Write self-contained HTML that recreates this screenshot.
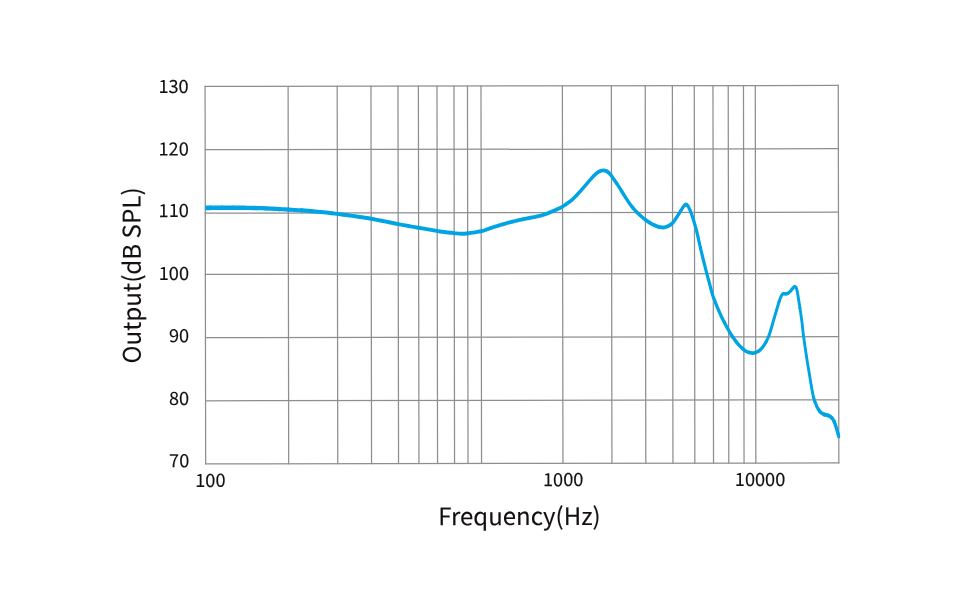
<!DOCTYPE html>
<html lang="en"><head><meta charset="utf-8"><title>Frequency Response</title>
<style>
html,body{margin:0;padding:0;background:#fff;}
body{width:976px;height:613px;overflow:hidden;position:relative;}
svg{position:absolute;left:0;top:0;display:block;}
text{font-family:"Noto Sans CJK SC","Liberation Sans",sans-serif;fill:#141010;stroke:#141010;stroke-width:0.12px;}
.tick{font-size:18.2px;}
.axis{font-size:24px;}
</style></head><body>
<svg width="976" height="613" viewBox="0 0 976 613">
<rect width="976" height="613" fill="#fff"/>
<g transform="rotate(-0.088 522 275)">
<g stroke="#8c8e90" stroke-width="1.25" stroke-linecap="round" fill="none"><line x1="205.37" y1="85.93" x2="205.37" y2="463.40"/><line x1="288.40" y1="85.93" x2="288.40" y2="463.40"/><line x1="337.47" y1="85.93" x2="337.47" y2="463.40"/><line x1="371.27" y1="85.93" x2="371.27" y2="463.40"/><line x1="398.27" y1="85.93" x2="398.27" y2="463.40"/><line x1="418.67" y1="85.93" x2="418.67" y2="463.40"/><line x1="437.27" y1="85.93" x2="437.27" y2="463.40"/><line x1="454.27" y1="85.93" x2="454.27" y2="463.40"/><line x1="467.75" y1="85.93" x2="467.75" y2="463.40"/><line x1="481.27" y1="85.93" x2="481.27" y2="463.40"/><line x1="562.67" y1="85.93" x2="562.67" y2="463.40"/><line x1="611.65" y1="85.93" x2="611.65" y2="463.40"/><line x1="645.52" y1="85.93" x2="645.52" y2="463.40"/><line x1="672.67" y1="85.93" x2="672.67" y2="463.40"/><line x1="694.57" y1="85.93" x2="694.57" y2="463.40"/><line x1="713.25" y1="85.93" x2="713.25" y2="463.40"/><line x1="728.50" y1="85.93" x2="728.50" y2="463.40"/><line x1="743.77" y1="85.93" x2="743.77" y2="463.40"/><line x1="755.57" y1="85.93" x2="755.57" y2="463.40"/><line x1="838.56" y1="85.93" x2="838.56" y2="463.40"/><line x1="205.37" y1="85.93" x2="838.56" y2="85.93"/><line x1="205.37" y1="149.23" x2="838.56" y2="149.23"/><line x1="205.37" y1="212.65" x2="838.56" y2="212.65"/><line x1="205.37" y1="273.93" x2="838.56" y2="273.93"/><line x1="205.37" y1="337.18" x2="838.56" y2="337.18"/><line x1="205.37" y1="400.28" x2="838.56" y2="400.28"/><line x1="205.37" y1="463.40" x2="838.56" y2="463.40"/></g>
<clipPath id="plotclip"><rect x="205.35" y="80" width="640" height="390"/></clipPath>
<g clip-path="url(#plotclip)"><g transform="scale(0.82 1)" fill="none" stroke="#00a4e3" stroke-linejoin="round" stroke-linecap="round"><path stroke-width="4.55" d="M250.37 207.41C251.77 207.41 254.02 207.40 256.74 207.39"/><path stroke-width="4.50" d="M256.74 207.39C258.10 207.38 259.58 207.38 261.13 207.37C262.68 207.36 264.30 207.36 265.95 207.35C267.60 207.34 269.27 207.34 270.93 207.33"/><path stroke-width="4.45" d="M270.93 207.33C272.58 207.32 274.22 207.32 275.79 207.32C277.35 207.31 278.86 207.31 280.24 207.31C281.63 207.30 282.91 207.30 284.03 207.31"/><path stroke-width="4.40" d="M284.03 207.31C286.26 207.31 288.22 207.31 289.99 207.32C291.76 207.33 293.36 207.34 294.88 207.35C296.41 207.37 297.86 207.38 299.35 207.41"/><path stroke-width="4.35" d="M299.35 207.41C300.84 207.43 302.36 207.45 304.03 207.48C305.69 207.51 307.28 207.54 308.84 207.57C310.41 207.60 311.95 207.64 313.53 207.68"/><path stroke-width="4.30" d="M313.53 207.68C315.12 207.72 316.74 207.76 318.47 207.82C320.20 207.87 322.03 207.93 324.03 208.01"/><path stroke-width="4.25" d="M324.03 208.01C326.02 208.08 328.14 208.16 330.35 208.25C332.57 208.34 334.87 208.44 337.24 208.54C338.42 208.59 339.62 208.65 340.83 208.70"/><path stroke-width="4.20" d="M340.83 208.70C342.04 208.76 343.26 208.81 344.49 208.87C345.72 208.93 346.96 208.99 348.21 209.05C349.45 209.11 350.70 209.18 351.95 209.24"/><path stroke-width="4.15" d="M351.95 209.24C353.20 209.31 354.48 209.37 355.79 209.44C357.10 209.50 358.43 209.57 359.78 209.64C361.13 209.71 362.50 209.78 363.87 209.86C365.25 209.93 366.63 210.00 368.01 210.08"/><path stroke-width="4.10" d="M368.01 210.08C369.39 210.16 370.77 210.23 372.14 210.31C373.52 210.39 374.88 210.48 376.22 210.56C377.57 210.64 378.90 210.73 380.20 210.81"/><path stroke-width="4.05" d="M380.20 210.81C381.50 210.90 382.78 210.99 384.02 211.08C385.26 211.17 386.48 211.27 387.68 211.36C388.88 211.46 390.06 211.55 391.23 211.65"/><path stroke-width="4.00" d="M391.23 211.65C393.56 211.85 395.83 212.06 398.08 212.27C400.33 212.48 402.56 212.70 404.79 212.92"/><path stroke-width="3.95" d="M404.79 212.92C407.03 213.15 409.28 213.38 411.58 213.62C412.73 213.73 413.91 213.86 415.12 213.99C416.33 214.12 417.56 214.25 418.80 214.39C420.03 214.53 421.28 214.67 422.53 214.81C423.77 214.95 425.01 215.09 426.23 215.23C427.45 215.38 428.66 215.52 429.83 215.65C431.00 215.79 432.14 215.92 433.23 216.05C435.42 216.31 437.42 216.55 439.13 216.75C442.56 217.16 444.00 217.29 445.56 217.47C446.34 217.56 447.14 217.66 448.24 217.81C449.34 217.96 450.73 218.17 452.67 218.47C453.64 218.62 454.73 218.79 455.92 218.98C457.11 219.17 458.40 219.39 459.75 219.61C461.11 219.83 462.53 220.07 464.00 220.32C465.46 220.56 466.97 220.81 468.49 221.07C470.01 221.32 471.55 221.58 473.07 221.84C474.60 222.09 476.11 222.35 477.58 222.59C479.05 222.83 480.48 223.07 481.84 223.29C483.21 223.51 484.50 223.72 485.71 223.91"/><path stroke-width="3.90" d="M485.71 223.91C488.11 224.29 490.32 224.63 492.41 224.94C494.51 225.26 496.49 225.55 498.44 225.83C500.38 226.11 502.30 226.38 504.25 226.66C506.21 226.95 508.21 227.23 510.33 227.54C512.46 227.85 514.71 228.18 517.01 228.53C518.16 228.70 519.32 228.87 520.48 229.04C521.65 229.21 522.81 229.39 523.96 229.55C526.27 229.89 528.54 230.22 530.69 230.52C532.83 230.82 534.85 231.10 536.67 231.32C538.48 231.55 540.15 231.75 541.71 231.92C543.27 232.08 544.73 232.23 546.11 232.36C547.49 232.49 548.80 232.60 550.08 232.70C551.36 232.81 552.61 232.90 553.86 233.00C556.36 233.19 558.18 233.42 560.07 233.56C561.96 233.71 563.91 233.77 566.66 233.61C568.04 233.53 569.68 233.39 571.45 233.21C573.21 233.03 575.10 232.81 576.98 232.57C578.85 232.34 580.71 232.08 582.41 231.84C584.11 231.59 585.66 231.35 586.91 231.14C589.41 230.72 590.82 230.34 592.12 229.93C593.42 229.52 594.61 229.09 596.67 228.55C597.70 228.28 598.85 227.98 600.06 227.66C601.26 227.34 602.54 227.00 603.85 226.66C605.15 226.32 606.49 225.97 607.80 225.63C609.12 225.30 610.43 224.97 611.68 224.67C612.93 224.37 614.18 224.07 615.43 223.77C616.68 223.48 617.93 223.19 619.18 222.90C620.43 222.62 621.68 222.34 622.93 222.07C624.18 221.80 625.44 221.54 626.69 221.29C627.94 221.03 629.19 220.79 630.44 220.56C631.69 220.33 632.94 220.10 634.19 219.88C635.44 219.67 636.69 219.45 637.94 219.24C639.19 219.03 640.44 218.82 641.69 218.61C642.94 218.40 644.24 218.19 645.55 217.99C646.86 217.80 648.18 217.60 649.48 217.41C650.77 217.22 652.05 217.02 653.26 216.83C654.48 216.63 655.63 216.43 656.70 216.23C658.82 215.81 660.64 215.40 662.32 214.98C664.01 214.55 665.57 214.11 667.19 213.64C668.80 213.17 670.27 212.67 671.71 212.16C673.15 211.64 674.57 211.11 676.10 210.55C677.62 209.99 679.07 209.54 680.59 209.01C682.11 208.47 683.69 207.85 685.49 206.96C686.39 206.52 687.40 205.99 688.45 205.42C689.50 204.85 690.60 204.23 691.69 203.60C692.78 202.97 693.86 202.32 694.88 201.69C695.90 201.06 696.86 200.44 697.70 199.88C699.38 198.75 700.70 197.71 701.93 196.66C703.17 195.61 704.31 194.55 705.64 193.39C706.97 192.22 708.30 190.97 709.64 189.70C710.97 188.44 712.31 187.15 713.64 185.90C714.98 184.65 716.38 183.30 717.75 182.01C719.11 180.71 720.45 179.46 721.64 178.41C722.84 177.35 724.00 176.35 725.07 175.47C726.15 174.58 727.14 173.81 728.00 173.21C729.72 172.02 730.64 171.67 731.96 171.22C733.28 170.77 734.60 170.52 735.93 170.52C737.26 170.53 738.63 170.68 739.95 171.23C741.27 171.78 742.53 172.63 743.85 173.83C745.17 175.04 746.26 176.57 747.86 178.44C748.67 179.37 749.57 180.40 750.52 181.51C751.47 182.62 752.47 183.80 753.46 185.05C754.46 186.29 755.49 187.65 756.55 189.06C757.61 190.47 758.69 191.93 759.79 193.35C760.88 194.78 762.01 196.31 763.16 197.82C764.30 199.32 765.45 200.81 766.60 202.16C767.75 203.52 768.90 204.82 770.05 206.06C771.21 207.29 772.37 208.47 773.54 209.57C774.70 210.67 775.89 211.68 777.07 212.64C778.25 213.59 779.43 214.50 780.60 215.38C781.77 216.27 782.92 217.11 784.08 217.92C785.23 218.72 786.38 219.48 787.54 220.19C788.70 220.90 789.86 221.56 791.01 222.18C792.17 222.80 793.33 223.37 794.49 223.90C795.64 224.43 796.86 224.92 798.05 225.37C799.24 225.81 800.40 226.20 801.43 226.51C803.50 227.13 805.41 227.43 806.92 227.61C808.42 227.80 809.17 227.80 810.46 227.62C811.74 227.44 812.98 227.24 814.60 226.52C816.23 225.81 818.63 224.58 820.22 223.33C821.81 222.08 822.81 220.62 824.13 219.04C825.45 217.45 826.82 215.57 828.16 213.84C829.51 212.11 831.14 209.98 832.20 208.65C833.26 207.31 833.80 206.50 834.52 205.85C835.24 205.20 835.80 204.72 836.53 204.75C837.27 204.79 838.05 205.08 838.91 206.05C839.77 207.03 840.85 208.97 841.71 210.61C842.57 212.24 843.29 213.95 844.07 215.86C844.86 217.77 845.64 219.90 846.44 222.06C846.84 223.15 847.27 224.29 847.68 225.45C848.10 226.60 848.50 227.76 848.87 228.87C849.59 231.08 849.84 231.89 850.81 235.37C851.05 236.24 851.33 237.29 851.64 238.45C851.95 239.61 852.28 240.87 852.62 242.17C852.97 243.46 853.32 244.79 853.67 246.09C854.02 247.38 854.36 248.63 854.68 249.77C855.33 252.06 855.97 254.25 856.62 256.40C857.27 258.54 857.91 260.65 858.56 262.78C859.21 264.91 859.88 267.11 860.54 269.25C861.21 271.39 861.85 273.45 862.44 275.28C863.03 277.12 863.52 278.61 864.01 280.09C864.51 281.56 865.00 283.02 865.59 284.79C866.18 286.56 866.67 288.31 867.26 290.21C867.85 292.11 868.54 294.15 869.53 296.49C870.03 297.66 870.61 298.97 871.24 300.34C871.87 301.72 872.56 303.16 873.26 304.61C873.97 306.06 874.70 307.52 875.41 308.92C876.13 310.33 876.83 311.67 877.49 312.90C878.15 314.13 878.81 315.32 879.47 316.46C880.13 317.60 880.79 318.71 881.44 319.79C882.10 320.87 882.76 321.92 883.42 322.95"/><path stroke-width="3.85" d="M883.42 322.95C884.08 323.99 884.73 325.00 885.39 326.01C886.05 327.02 886.71 328.02 887.37 328.99C888.02 329.97 888.68 330.92 889.34 331.86C890.65 333.72 891.97 335.49 893.30 337.12"/><path stroke-width="3.80" d="M893.30 337.12C894.63 338.76 895.97 340.29 897.31 341.71C898.66 343.13 900.00 344.44 901.33 345.63C902.66 346.83 903.98 347.95 905.30 348.94"/><path stroke-width="3.75" d="M905.30 348.94C906.61 349.94 907.93 350.79 909.25 351.44C910.57 352.10 912.05 352.53 913.45 352.84"/><path stroke-width="3.70" d="M913.45 352.84C914.85 353.15 916.18 353.33 917.17 353.45C919.16 353.71 919.79 353.34 921.20 352.96C922.60 352.58 924.14 352.05 925.59 351.16"/><path stroke-width="3.65" d="M925.59 351.16C927.03 350.28 928.46 349.13 929.86 347.67C931.27 346.20 932.74 344.31 934.02 342.37"/><path stroke-width="3.60" d="M934.02 342.37C934.66 341.41 935.29 340.38 935.89 339.32C936.48 338.26 937.05 337.17 937.57 336.08C938.09 334.99 938.53 333.91 938.96 332.79C939.39 331.67 939.81 330.52 940.26 329.28C940.72 328.05 941.16 326.79 941.62 325.47C942.08 324.15 942.55 322.77 943.08 321.29C943.62 319.80 944.21 318.16 944.82 316.48C945.43 314.81 946.06 313.10 946.64 311.49C947.22 309.88 947.82 308.15 948.41 306.49C948.99 304.84 949.56 303.27 950.07 301.99"/><path stroke-width="3.55" d="M950.07 301.99C951.09 299.45 951.99 297.50 952.77 296.20C953.54 294.90 953.93 294.52 954.72 294.20C955.51 293.89 956.57 294.35 957.53 294.30C958.48 294.26 959.46 294.31 960.45 293.91C961.45 293.51 962.51 292.73 963.51 291.91C964.50 291.10 965.48 289.83 966.44 289.02C967.39 288.20 968.45 287.08 969.25 287.02C970.04 286.95 970.67 287.67 971.19 288.62C971.72 289.57 971.96 290.82 972.41 292.72C972.63 293.67 972.87 294.85 973.11 296.12C973.35 297.38 973.60 298.73 973.86 300.02C974.11 301.32 974.37 302.69 974.64 304.08C974.91 305.46 975.17 306.87 975.43 308.23"/><path stroke-width="3.50" d="M975.43 308.23C975.68 309.59 975.92 310.90 976.16 312.23C976.40 313.56 976.63 314.90 976.87 316.33C977.12 317.75 977.36 319.20 977.61 320.70C977.85 322.19 978.09 323.73 978.32 325.33C978.55 326.93 978.65 328.06 978.81 329.49C978.97 330.93 979.18 332.68 979.64 335.53C979.87 336.96 980.17 338.74 980.52 340.73C980.86 342.71 981.24 344.90 981.63 347.12C982.02 349.33 982.42 351.59 982.80 353.71C983.19 355.84 983.55 357.83 983.87 359.54C984.18 361.24 984.50 362.87 984.80 364.42C985.11 365.96 985.41 367.44 985.69 368.84C985.98 370.24 986.26 371.57 986.52 372.84C986.78 374.10 987.02 375.30 987.25 376.44C987.70 378.72 988.01 380.41 988.31 381.98C988.61 383.56 988.90 385.02 989.30 386.84"/><path stroke-width="3.55" d="M989.30 386.84C989.71 388.67 990.14 390.73 990.60 392.75C991.07 394.76 991.56 396.72 992.09 398.35"/><path stroke-width="3.60" d="M992.09 398.35C992.61 399.97 993.17 401.40 993.76 402.71"/><path stroke-width="3.65" d="M993.76 402.71C994.35 404.02 994.97 405.21 995.61 406.35"/><path stroke-width="3.70" d="M995.61 406.35C996.25 407.49 996.91 408.57 997.59 409.53"/><path stroke-width="3.75" d="M997.59 409.53C998.28 410.49 998.99 411.35 999.74 412.06"/><path stroke-width="3.90" d="M999.74 412.06C1001.25 413.48 1002.87 414.20 1004.62 414.86"/><path stroke-width="4.10" d="M1004.62 414.86C1006.36 415.53 1008.60 415.49 1010.22 416.07C1011.85 416.66 1013.21 417.32 1014.37 418.38C1015.52 419.43 1016.23 420.58 1017.16 422.38"/><path stroke-width="4.05" d="M1017.16 422.38C1017.63 423.28 1018.13 424.46 1018.61 425.68"/><path stroke-width="4.00" d="M1018.61 425.68C1019.10 426.89 1019.56 428.14 1019.96 429.18"/><path stroke-width="3.95" d="M1019.96 429.18C1020.74 431.27 1021.47 433.59 1021.90 434.89"/><path stroke-width="3.90" d="M1021.90 434.89C1022.32 436.19 1022.40 436.64 1022.50 436.99"/></g></g>
<g class="tick"><text x="189" y="92.53" text-anchor="end">130</text><text x="189" y="154.93" text-anchor="end">120</text><text x="189" y="216.58" text-anchor="end">110</text><text x="189" y="279.43" text-anchor="end">100</text><text x="189" y="341.83" text-anchor="end">90</text><text x="189" y="404.53" text-anchor="end">80</text><text x="189" y="466.83" text-anchor="end">70</text>
<text x="210.07" y="486.4" text-anchor="middle">100</text>
<text x="562.87" y="486.2" text-anchor="middle">1000</text>
<text x="759.77" y="486.45" text-anchor="middle">10000</text>
</g>
<g class="axis">
<text x="519.1" y="525.1" text-anchor="middle">Frequency(Hz)</text>
<text transform="translate(140.65 274.8) rotate(-90)" text-anchor="middle" style="font-size:24.2px">Output(dB SPL)</text>
</g>
</g>
</svg>
</body></html>
